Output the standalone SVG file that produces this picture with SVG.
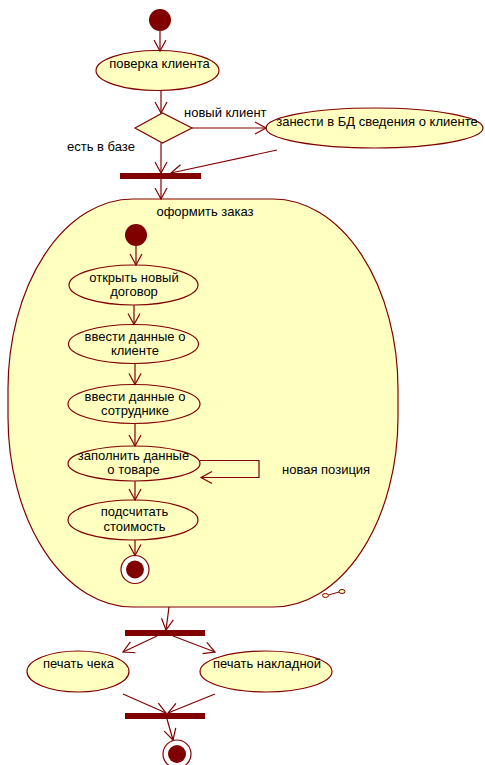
<svg xmlns="http://www.w3.org/2000/svg" width="485" height="765" viewBox="0 0 485 765">
<defs>
<marker id="arr" markerUnits="userSpaceOnUse" markerWidth="14" markerHeight="14" refX="11" refY="6" orient="auto" overflow="visible">
<path d="M0,0 L11,6 L0,12" fill="none" stroke="#800000" stroke-width="1.2"/>
</marker>
<style>
.n{fill:#FFFFC0;stroke:#800000;stroke-width:1.2}
.dot{fill:#800000}
.bar{fill:#800000}
.c{fill:none;stroke:#800000;stroke-width:1.2;marker-end:url(#arr)}
text{font-family:"Liberation Sans",Arial,sans-serif;font-size:13px;fill:#000}
.m{text-anchor:middle}
</style>
</defs>
<rect width="485" height="765" fill="#fff"/>
<g id="composite">
<rect class="n" x="8" y="199" width="390" height="408" rx="125" ry="190"/>
<text class="m" x="205" y="216">оформить заказ</text>
<ellipse cx="325.5" cy="595.5" rx="3" ry="2" fill="#FFFFC0" stroke="#800000" stroke-width="1"/>
<ellipse cx="342" cy="591.5" rx="3" ry="2" fill="#FFFFC0" stroke="#800000" stroke-width="1"/>
<line x1="328.5" y1="595" x2="339" y2="592" stroke="#800000" stroke-width="1"/>
</g>
<g id="start"><circle class="dot" cx="160" cy="20" r="11"/></g>
<g id="check">
<ellipse class="n" cx="157.5" cy="70.5" rx="61.5" ry="20"/>
<text class="m" x="159.5" y="68">поверка клиента</text>
</g>
<g id="decision"><polygon class="n" points="135,128 162.5,113 192,128 162.5,143"/></g>
<g id="register">
<ellipse class="n" cx="374.5" cy="128" rx="108.5" ry="20"/>
<text class="m" x="377" y="126">занести в БД сведения о клиенте</text>
</g>
<g id="join1"><rect class="bar" x="120" y="173" width="81" height="6"/></g>
<g id="istart"><circle class="dot" cx="136" cy="235" r="11"/></g>
<g id="a1">
<ellipse class="n" cx="133.5" cy="285" rx="64.5" ry="20"/>
<text class="m" x="134" y="282">открыть новый</text>
<text class="m" x="134" y="296">договор</text>
</g>
<g id="a2">
<ellipse class="n" cx="133.5" cy="344" rx="65" ry="19.5"/>
<text class="m" x="135" y="341">ввести данные о</text>
<text class="m" x="135" y="355">клиенте</text>
</g>
<g id="a3">
<ellipse class="n" cx="134" cy="404" rx="66" ry="19.5"/>
<text class="m" x="135" y="400.5">ввести данные о</text>
<text class="m" x="135" y="414.5">сотруднике</text>
</g>
<g id="a4">
<ellipse class="n" cx="134" cy="463.5" rx="66" ry="17.5"/>
<text class="m" x="133.5" y="460">заполнить данные</text>
<text class="m" x="133.5" y="474">о товаре</text>
</g>
<g id="a5">
<ellipse class="n" cx="133" cy="520" rx="65" ry="20"/>
<text class="m" x="134.5" y="515.5">подсчитать</text>
<text class="m" x="134.5" y="530.5">стоимость</text>
</g>
<g id="iend">
<circle cx="135" cy="569.5" r="14" fill="#fff" stroke="#800000" stroke-width="1.2"/>
<circle class="dot" cx="135" cy="569.5" r="9"/>
</g>
<g id="fork"><rect class="bar" x="125" y="630" width="80" height="6"/></g>
<g id="receipt">
<ellipse class="n" cx="78" cy="671.5" rx="51" ry="20.5"/>
<text class="m" x="78.5" y="668">печать чека</text>
</g>
<g id="invoice">
<ellipse class="n" cx="266" cy="671.5" rx="66" ry="20.5"/>
<text class="m" x="267" y="668">печать накладной</text>
</g>
<g id="join2"><rect class="bar" x="125" y="713" width="80" height="6"/></g>
<g id="end">
<circle cx="177" cy="754" r="14" fill="#fff" stroke="#800000" stroke-width="1.2"/>
<circle class="dot" cx="177" cy="754" r="9"/>
</g>
<g id="connectors">
<line class="c" x1="160" y1="31" x2="160" y2="51"/>
<line class="c" x1="161" y1="91" x2="161" y2="113"/>
<line class="c" x1="192" y1="128" x2="266" y2="128"/>
<line class="c" x1="161" y1="143" x2="161" y2="173"/>
<line class="c" x1="277" y1="150" x2="171" y2="173"/>
<line class="c" x1="161" y1="179" x2="161" y2="199"/>
<line class="c" x1="136" y1="246" x2="136" y2="265"/>
<line class="c" x1="134" y1="305" x2="134" y2="324.5"/>
<line class="c" x1="135" y1="364" x2="135" y2="384.5"/>
<line class="c" x1="135" y1="424" x2="135" y2="446"/>
<polyline class="c" points="200,460.5 259,460.5 259,477.5 201,477.5"/>
<line class="c" x1="135" y1="481" x2="135" y2="500"/>
<line class="c" x1="135" y1="540" x2="135" y2="555.5"/>
<line class="c" x1="169" y1="607" x2="166" y2="630"/>
<line class="c" x1="157" y1="636" x2="123" y2="652"/>
<line class="c" x1="173" y1="636" x2="215" y2="652"/>
<line class="c" x1="123" y1="694" x2="166" y2="713"/>
<line class="c" x1="215" y1="694" x2="168" y2="713"/>
<line class="c" x1="167" y1="719" x2="173" y2="740"/>
</g>
<g id="labels">
<text x="184" y="117">новый клиент</text>
<text x="67" y="151">есть в базе</text>
<text x="282" y="474">новая позиция</text>
</g>
</svg>
